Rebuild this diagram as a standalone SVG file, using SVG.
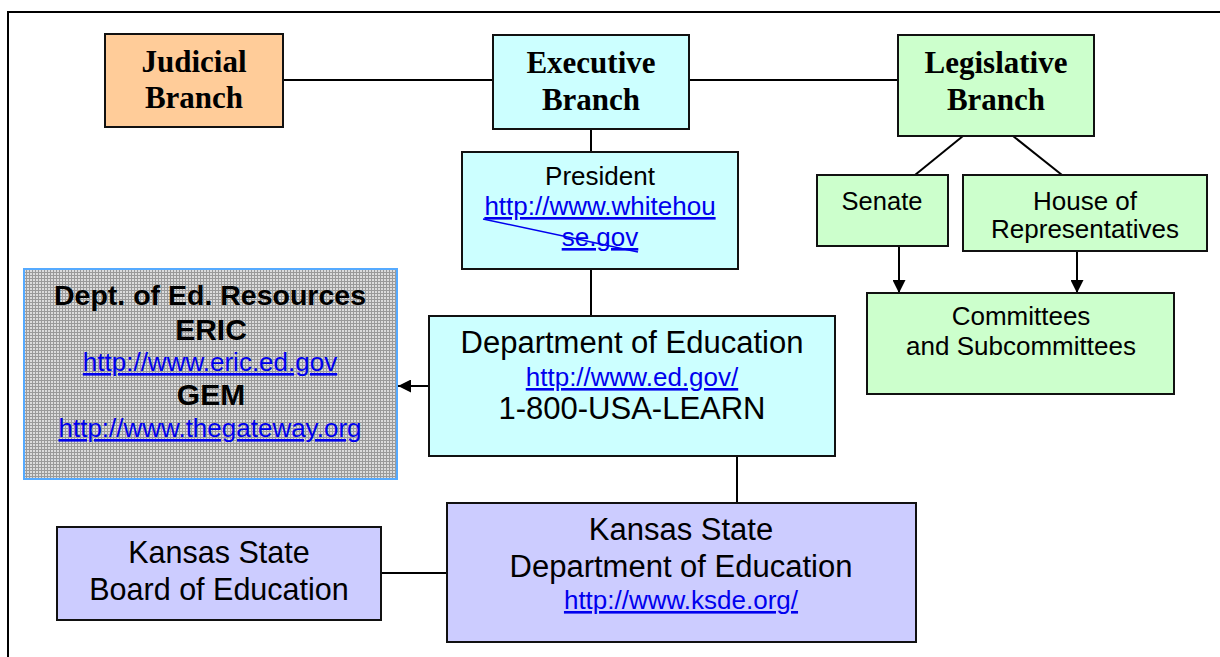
<svg xmlns="http://www.w3.org/2000/svg" width="1220" height="657" viewBox="0 0 1220 657">
<style>
.box{stroke:#111;stroke-width:2}
.branch{font-family:"Liberation Serif",serif;font-weight:bold;font-size:31px;fill:#000;text-anchor:middle}
.t{font-family:"Liberation Sans",Arial,sans-serif;fill:#000;text-anchor:middle}
.b{font-weight:bold}
.link{font-family:"Liberation Sans",Arial,sans-serif;fill:#0000EE;text-anchor:middle;text-decoration:underline;font-size:26px}
.conn{stroke:#000;stroke-width:2;fill:none}
</style>
<defs>
<pattern id="dots" width="3" height="3" patternUnits="userSpaceOnUse">
<rect width="3" height="3" fill="#9a9a9a"/>
<rect width="2" height="2" fill="#dcdcdc"/>
</pattern>
<marker id="arr" viewBox="0 0 10 10" refX="10" refY="5" markerWidth="6.5" markerHeight="6.5" markerUnits="strokeWidth" orient="auto">
<path d="M0,0 L10,5 L0,10 z" fill="#000"/>
</marker>
</defs>
<rect width="1220" height="657" fill="#fff"/>
<path d="M8,657 V12 H1220" fill="none" stroke="#000" stroke-width="2"/>

<g id="connectors">
<line class="conn" x1="283" y1="80" x2="493" y2="80"/>
<line class="conn" x1="689" y1="80" x2="898" y2="80"/>
<line class="conn" x1="591" y1="129" x2="591" y2="152"/>
<line class="conn" x1="591" y1="269" x2="591" y2="316"/>
<line class="conn" x1="429" y1="386" x2="398" y2="386" marker-end="url(#arr)"/>
<line class="conn" x1="737" y1="456" x2="737" y2="503"/>
<line class="conn" x1="381" y1="573" x2="447" y2="573"/>
<line class="conn" x1="963" y1="136" x2="915" y2="175"/>
<line class="conn" x1="1013" y1="136" x2="1062" y2="175"/>
<line class="conn" x1="899" y1="246" x2="899" y2="293" marker-end="url(#arr)"/>
<line class="conn" x1="1077" y1="251" x2="1077" y2="293" marker-end="url(#arr)"/>
</g>

<g id="judicial">
<rect class="box" x="105" y="34" width="178" height="93" fill="#FFCC99"/>
<text class="branch" x="194" y="72">Judicial</text>
<text class="branch" x="194" y="108">Branch</text>
</g>

<g id="executive">
<rect class="box" x="493" y="35" width="196" height="94" fill="#CCFFFF"/>
<text class="branch" x="591" y="73">Executive</text>
<text class="branch" x="591" y="110">Branch</text>
</g>

<g id="legislative">
<rect class="box" x="898" y="35" width="196" height="101" fill="#CCFFCC"/>
<text class="branch" x="996" y="73">Legislative</text>
<text class="branch" x="996" y="110">Branch</text>
</g>

<g id="president">
<rect class="box" x="462" y="152" width="276" height="117" fill="#CCFFFF"/>
<text class="t" x="600" y="185" font-size="26">President</text>
<text class="link" x="600" y="215">http://www.whitehou</text>
<text class="link" x="600" y="246">se.gov</text>
<line x1="483" y1="219" x2="638" y2="252" stroke="#0000EE" stroke-width="1.5"/>
</g>

<g id="senate">
<rect class="box" x="817" y="175" width="131" height="71" fill="#CCFFCC"/>
<text class="t" x="882" y="210" font-size="25.5">Senate</text>
</g>

<g id="house">
<rect class="box" x="963" y="175" width="244" height="76" fill="#CCFFCC"/>
<text class="t" x="1085" y="210" font-size="26">House of</text>
<text class="t" x="1085" y="238" font-size="26">Representatives</text>
</g>

<g id="committees">
<rect class="box" x="867" y="293" width="307" height="101" fill="#CCFFCC"/>
<text class="t" x="1021" y="325" font-size="26">Committees</text>
<text class="t" x="1021" y="355" font-size="26">and Subcommittees</text>
</g>

<g id="resources">
<rect x="24" y="269" width="373" height="210" fill="url(#dots)" stroke="#55AAFF" stroke-width="2"/>
<text class="t b" x="210" y="305" font-size="28.5">Dept. of Ed. Resources</text>
<text class="t b" x="211" y="340" font-size="30">ERIC</text>
<text class="link" x="210" y="371">http://www.eric.ed.gov</text>
<text class="t b" x="211" y="405" font-size="30">GEM</text>
<text class="link" x="210" y="437">http://www.thegateway.org</text>
</g>

<g id="dept-ed">
<rect class="box" x="429" y="316" width="406" height="140" fill="#CCFFFF"/>
<text class="t" x="632" y="353" font-size="31">Department of Education</text>
<text class="link" x="632" y="386">http://www.ed.gov/</text>
<text class="t" x="632" y="419" font-size="31">1-800-USA-LEARN</text>
</g>

<g id="ks-board">
<rect class="box" x="57" y="527" width="324" height="93" fill="#CCCCFF"/>
<text class="t" x="219" y="563" font-size="30.5">Kansas State</text>
<text class="t" x="219" y="600" font-size="30.5">Board of Education</text>
</g>

<g id="ks-dept">
<rect class="box" x="447" y="503" width="469" height="139" fill="#CCCCFF"/>
<text class="t" x="681" y="540" font-size="31">Kansas State</text>
<text class="t" x="681" y="577" font-size="31">Department of Education</text>
<text class="link" x="681" y="609">http://www.ksde.org/</text>
</g>
</svg>
